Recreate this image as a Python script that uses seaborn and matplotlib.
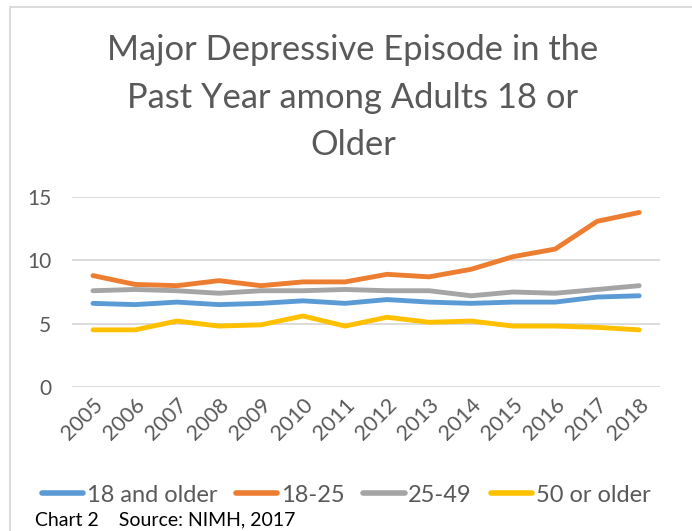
import pandas as pd
import matplotlib.pyplot as plt
import seaborn as sns
from matplotlib.patches import Rectangle

# ---------------------------------------------------------------------------
# Data (percent of adults with a major depressive episode in the past year)
# ---------------------------------------------------------------------------
years = ["2005", "2006", "2007", "2008", "2009", "2010", "2011",
         "2012", "2013", "2014", "2015", "2016", "2017", "2018"]
adults_18_plus = [6.6, 6.5, 6.7, 6.5, 6.6, 6.8, 6.6, 6.9, 6.7, 6.6, 6.7, 6.7, 7.1, 7.2]
age_18_25 = [8.8, 8.1, 8.0, 8.4, 8.0, 8.3, 8.3, 8.9, 8.7, 9.3, 10.3, 10.9, 13.1, 13.8]
age_25_49 = [7.6, 7.7, 7.6, 7.4, 7.6, 7.6, 7.7, 7.6, 7.6, 7.2, 7.5, 7.4, 7.7, 8.0]
age_50_plus = [4.5, 4.5, 5.2, 4.8, 4.9, 5.6, 4.8, 5.5, 5.1, 5.2, 4.8, 4.8, 4.7, 4.5]

series_names = ["18 and older", "18-25", "25-49", "50 or older"]
series_colors = ["#5B9BD5", "#ED7D31", "#A5A5A5", "#FFC000"]

df = pd.DataFrame({"year": years * 4,
                   "series": [n for n in series_names for _ in years],
                   "value": adults_18_plus + age_18_25 + age_25_49 + age_50_plus})

# ---------------------------------------------------------------------------
# Style
# ---------------------------------------------------------------------------
sns.set_style("white")
plt.rcParams["font.family"] = ["Lato", "DejaVu Sans"]
TEXT_GREY = "#595959"

fig = plt.figure(figsize=(6.92, 5.31), dpi=100)
ax = fig.add_axes([0.104, 0.2718, 0.850, 0.3566])

sns.lineplot(data=df, x="year", y="value", hue="series",
             palette=dict(zip(series_names, series_colors)),
             linewidth=3.5, sort=False, ax=ax, legend=False)
for ln in ax.lines:
    ln.set_solid_capstyle("round")
    ln.set_solid_joinstyle("round")

ax.set_xlim(-0.5, len(years) - 0.5)
ax.set_ylim(0, 15)
ax.set_yticks([0, 5, 10, 15])
ax.grid(axis="y", color="#D9D9D9", linewidth=1.3)
ax.set_axisbelow(True)
for s in ax.spines.values():
    s.set_visible(False)
ax.set_xlabel("")
ax.set_ylabel("")
ax.tick_params(axis="both", length=0, colors=TEXT_GREY, labelsize=15)
ax.tick_params(axis="x", labelsize=15.5, pad=6)
ax.tick_params(axis="y", pad=15)
plt.setp(ax.get_xticklabels(), rotation=45, ha="right", rotation_mode="anchor")

# Title
fig.text(353 / 692, 1 - 34 / 531,
         "Major Depressive Episode in the\nPast Year among Adults 18 or\nOlder",
         ha="center", va="top", fontsize=24.8, color=TEXT_GREY, linespacing=1.6)

# Legend
handles = [plt.Line2D([], [], color=c, linewidth=4, solid_capstyle="round")
           for c in series_colors]
fig.legend(handles, series_names, loc="center", bbox_to_anchor=(0.5, 1 - 495 / 531),
           ncol=4, frameon=False, fontsize=17, handlelength=1.75,
           handletextpad=0.15, columnspacing=0.8, labelcolor=TEXT_GREY)

fig.text(35 / 692, 1 - 520 / 531, "Chart 2    Source: NIMH, 2017",
         ha="left", va="center", fontsize=14, color="black")

# Chart frame (light border, open at right and bottom as in the source)
fig.patches.append(Rectangle((10 / 692, -0.1), 1.2, 1 - 7 / 531 + 0.1,
                             transform=fig.transFigure, fill=False,
                             edgecolor="#D9D9D9", linewidth=1.3))

fig.savefig("out.png", dpi=100)
